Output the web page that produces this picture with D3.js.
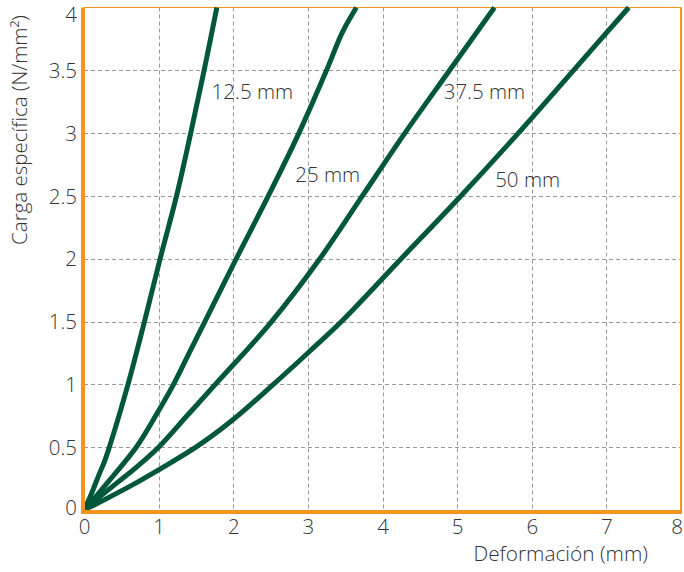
<!DOCTYPE html>
<html><head><meta charset="utf-8">
<script src="https://cdn.jsdelivr.net/npm/d3@7"></script>
<style>
body{margin:0;background:#fff}
svg{display:block}
text{font-family:"Open Sans","Noto Sans",sans-serif;fill:#333;font-weight:350}
</style>
</head><body>
<svg id="chart" width="684" height="572"></svg>
<script>
// ---- data ----
const xTicks = [0, 1, 2, 3, 4, 5, 6, 7, 8];
const yTicks = [0, 0.5, 1, 1.5, 2, 2.5, 3, 3.5, 4];
const seriesNames = ["12.5 mm", "25 mm", "37.5 mm", "50 mm"];
// [deformación (mm), carga (N/mm²)]
const s12_5 = [[0,0],[0.1,0.13],[0.2,0.28],[0.27,0.38],[0.35,0.52],[0.59,1.0],[0.81,1.5],[1.02,2.0],[1.24,2.5],[1.43,3.0],[1.61,3.5],[1.78,4.0]];
const s25   = [[0,0],[0.15,0.1],[0.36,0.25],[0.7,0.5],[0.96,0.75],[1.2,1.0],[1.41,1.25],[1.62,1.5],[2.04,2.0],[2.47,2.5],[2.88,3.0],[3.25,3.5],[3.46,3.8],[3.65,4.0]];
const s37_5 = [[0,0],[0.2,0.1],[0.45,0.22],[0.72,0.35],[1.0,0.5],[1.38,0.75],[1.76,1.0],[2.5,1.49],[3.16,2.0],[3.73,2.5],[4.3,3.0],[4.9,3.5],[5.5,4.0]];
const s50   = [[0,0],[0.3,0.09],[0.65,0.2],[1.0,0.32],[1.5,0.5],[2.0,0.72],[2.5,0.98],[3.0,1.25],[3.45,1.5],[4.25,2.0],[5.05,2.5],[5.82,3.0],[6.56,3.5],[7.3,4.0]];
// label anchors in data units
const labelAt = [[1.71,3.27],[2.83,2.61],[4.82,3.27],[5.51,2.575]];
const xTitle = "Deformación (mm)";
const yTitle = "Carga específica (N/mm²)";

// ---- drawing ----
const svg = d3.select("#chart");
const x = d3.scaleLinear().domain([0, 8]).range([84, 681]);
const y = d3.scaleLinear().domain([0, 4]).range([510, 7.5]);
const orange = "#F7941D", green = "#00573A";
const FONT = "'Open Sans','Noto Sans',sans-serif";

// grid
const grid = svg.append("g");
grid.selectAll("line.v").data(xTicks.filter(d => d > 0 && d < 8)).enter().append("line")
  .attr("x1", d => Math.round(x(d)) + 0.5).attr("x2", d => Math.round(x(d)) + 0.5)
  .attr("y1", y(4)).attr("y2", y(0) + 2)
  .attr("stroke", "#999").attr("stroke-width", 1).attr("stroke-dasharray", "4,3");
grid.selectAll("line.h").data(yTicks.filter(d => d > 0 && d < 4)).enter().append("line")
  .attr("y1", d => Math.round(y(d)) + 0.5).attr("y2", d => Math.round(y(d)) + 0.5)
  .attr("x1", x(0)).attr("x2", x(8))
  .attr("stroke", "#999").attr("stroke-width", 1).attr("stroke-dasharray", "4,3");

// frame (top & right thin)
svg.append("line").attr("x1", x(0)).attr("x2", x(8)).attr("y1", y(4)).attr("y2", y(4))
  .attr("stroke", orange).attr("stroke-width", 1.2);
svg.append("line").attr("x1", x(8)).attr("x2", x(8)).attr("y1", y(4)).attr("y2", y(0) + 2)
  .attr("stroke", orange).attr("stroke-width", 2);

// series
const line = d3.line().x(d => x(d[0])).y(d => y(d[1])).curve(d3.curveCatmullRom.alpha(0.5));
const allSeries = [s12_5, s25, s37_5, s50];
svg.append("g").selectAll("path").data(allSeries).enter().append("path")
  .attr("d", line).attr("fill", "none").attr("stroke", green)
  .attr("stroke-width", 5).attr("stroke-linejoin", "round").attr("stroke-linecap", "butt");

// axes (main thick)
svg.append("line").attr("x1", x(0) - 1).attr("x2", x(0) - 1).attr("y1", y(4)).attr("y2", y(0) + 4)
  .attr("stroke", orange).attr("stroke-width", 4);
svg.append("line").attr("x1", x(0) - 3).attr("x2", x(8) + 1).attr("y1", y(0) + 2).attr("y2", y(0) + 2)
  .attr("stroke", orange).attr("stroke-width", 4);

// tick labels via d3 axes
const fmt = d => String(d);
const yAxis = svg.append("g").attr("transform", "translate(77,0)")
  .call(d3.axisLeft(y).tickValues(yTicks).tickFormat(fmt).tickSize(0).tickPadding(0));
yAxis.select(".domain").remove();
yAxis.selectAll("text").attr("font-size", 20.5).attr("fill", "#333")
  .attr("font-family", FONT).attr("font-weight", 350)
  .attr("dy", d => d === 4 ? "0.68em" : (d === 0 ? "0.2em" : "0.35em"));

const xAxis = svg.append("g").attr("transform", "translate(0,517)")
  .call(d3.axisBottom(x).tickValues(xTicks).tickFormat(fmt).tickSize(0).tickPadding(0));
xAxis.select(".domain").remove();
xAxis.selectAll("text").attr("font-size", 20.5).attr("fill", "#333")
  .attr("font-family", FONT).attr("font-weight", 350)
  .attr("dy", "0.85em").attr("y", 0)
  .attr("text-anchor", d => d === 8 ? "end" : "middle")
  .attr("dx", d => d === 8 ? "1.5" : "0");

// series labels
svg.append("g").selectAll("text").data(seriesNames).enter().append("text")
  .attr("x", (d, i) => x(labelAt[i][0])).attr("y", (d, i) => y(labelAt[i][1]))
  .attr("font-size", 20.5).text(d => d);

// titles
svg.append("text").attr("x", 648).attr("y", 561).attr("text-anchor", "end")
  .attr("font-size", 20.8).text(xTitle);
svg.append("text").attr("transform", "translate(27,130) rotate(-90)")
  .attr("text-anchor", "middle").attr("font-size", 20.5).text(yTitle);
</script>
</body></html>
